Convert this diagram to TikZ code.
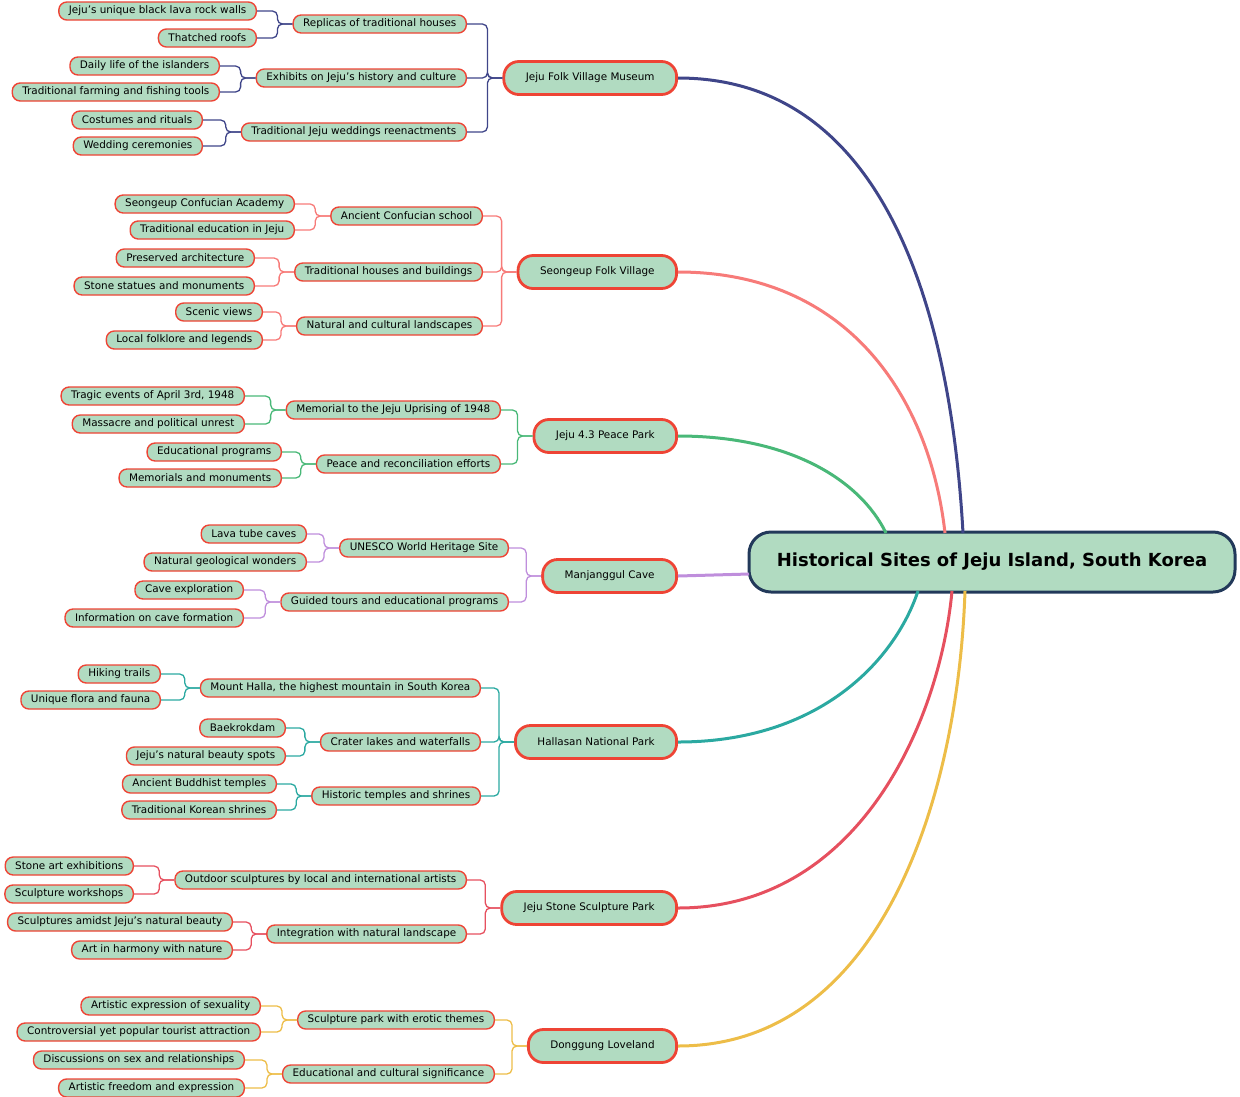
\documentclass[tikz,border=0pt]{standalone}
\usepackage{fontspec}
\setmainfont{DejaVu Sans}
\begin{document}
\begin{tikzpicture}[x=1pt,y=-1pt,
 leaf/.style={draw=nodered,fill=nodefill,line width=1.4pt,rounded corners=8pt,minimum height=18pt,inner xsep=10pt,inner ysep=1pt,font=\fontsize{10.4pt}{11pt}\selectfont,anchor=east},
 main/.style={leaf,line width=2.8pt,rounded corners=15pt,minimum height=33pt,inner xsep=22pt},
 conn/.style={line width=1.3pt,rounded corners=5pt},
 big/.style={line width=3pt}]
\definecolor{nodered}{HTML}{EE4435}
\definecolor{nodefill}{HTML}{B1DBC1}
\definecolor{cA}{HTML}{3F4589}
\definecolor{cB}{HTML}{F77B79}
\definecolor{cC}{HTML}{49B878}
\definecolor{cD}{HTML}{BF8EDC}
\definecolor{cE}{HTML}{2BA9A1}
\definecolor{cF}{HTML}{E6505F}
\definecolor{cG}{HTML}{EDBD48}
\definecolor{rootb}{HTML}{22395A}
\useasboundingbox (0,0) rectangle (1240,1096);
\newcommand\nd[5][leaf]{\node[#1] (#2) at (#3,#4) {#5};}
\newcommand\cn[3]{\draw[#3,conn] (#1.west) -- ++(-15,0) |- (#2.east);}
% main connectors
\coordinate (ra) at (963,533);
\coordinate (rb) at (945,533);
\coordinate (rc) at (886,533);
\coordinate (rd) at (749,574);
\coordinate (re) at (918,591);
\coordinate (rf) at (952,591);
\coordinate (rg) at (965,591);
\node[draw=rootb,fill=nodefill,line width=3pt,rounded corners=22pt,minimum width=486pt,minimum height=60pt,font=\fontsize{18pt}{20pt}\selectfont\bfseries] (root) at (992,562) {Historical Sites of Jeju Island, South Korea};
% branch A
\nd[main]{a}{678}{78}{Jeju Folk Village Museum}
\nd{a1}{467}{24}{Replicas of traditional houses}
\nd{a2}{467}{78}{Exhibits on Jeju's history and culture}
\nd{a3}{467}{132}{Traditional Jeju weddings reenactments}
\nd{a11}{257}{11}{Jeju's unique black lava rock walls}
\nd{a12}{257}{38}{Thatched roofs}
\nd{a21}{220}{66}{Daily life of the islanders}
\nd{a22}{220}{92}{Traditional farming and fishing tools}
\nd{a31}{203}{120}{Costumes and rituals}
\nd{a32}{203}{146}{Wedding ceremonies}
\foreach \c/\p in {a1/a,a2/a,a3/a,a11/a1,a12/a1,a21/a2,a22/a2,a31/a3,a32/a3}{\cn{\p}{\c}{cA}}
% branch B
\nd[main]{b}{678}{272}{Seongeup Folk Village}
\nd{b1}{483}{216}{Ancient Confucian school}
\nd{b2}{483}{272}{Traditional houses and buildings}
\nd{b3}{483}{326}{Natural and cultural landscapes}
\nd{b11}{295}{204}{Seongeup Confucian Academy}
\nd{b12}{295}{230}{Traditional education in Jeju}
\nd{b21}{255}{258}{Preserved architecture}
\nd{b22}{255}{286}{Stone statues and monuments}
\nd{b31}{263}{312}{Scenic views}
\nd{b32}{263}{340}{Local folklore and legends}
\foreach \c/\p in {b1/b,b2/b,b3/b,b11/b1,b12/b1,b21/b2,b22/b2,b31/b3,b32/b3}{\cn{\p}{\c}{cB}}
% branch C
\nd[main]{c}{678}{436}{Jeju 4.3 Peace Park}
\nd{c1}{501}{410}{Memorial to the Jeju Uprising of 1948}
\nd{c2}{501}{464}{Peace and reconciliation efforts}
\nd{c11}{245}{396}{Tragic events of April 3rd, 1948}
\nd{c12}{245}{424}{Massacre and political unrest}
\nd{c21}{282}{452}{Educational programs}
\nd{c22}{282}{478}{Memorials and monuments}
\foreach \c/\p in {c1/c,c2/c,c11/c1,c12/c1,c21/c2,c22/c2}{\cn{\p}{\c}{cC}}
% branch D
\nd[main]{d}{678}{576}{Manjanggul Cave}
\nd{d1}{509}{548}{UNESCO World Heritage Site}
\nd{d2}{509}{602}{Guided tours and educational programs}
\nd{d11}{307}{534}{Lava tube caves}
\nd{d12}{307}{562}{Natural geological wonders}
\nd{d21}{244}{590}{Cave exploration}
\nd{d22}{244}{618}{Information on cave formation}
\foreach \c/\p in {d1/d,d2/d,d11/d1,d12/d1,d21/d2,d22/d2}{\cn{\p}{\c}{cD}}
% branch E
\nd[main]{e}{678}{742}{Hallasan National Park}
\nd{e1}{481}{688}{Mount Halla, the highest mountain in South Korea}
\nd{e2}{481}{742}{Crater lakes and waterfalls}
\nd{e3}{481}{796}{Historic temples and shrines}
\nd{e11}{161}{674}{Hiking trails}
\nd{e12}{161}{700}{Unique flora and fauna}
\nd{e21}{286}{728}{Baekrokdam}
\nd{e22}{286}{756}{Jeju's natural beauty spots}
\nd{e31}{277}{784}{Ancient Buddhist temples}
\nd{e32}{277}{810}{Traditional Korean shrines}
\foreach \c/\p in {e1/e,e2/e,e3/e,e11/e1,e12/e1,e21/e2,e22/e2,e31/e3,e32/e3}{\cn{\p}{\c}{cE}}
% branch F
\nd[main]{f}{678}{908}{Jeju Stone Sculpture Park}
\nd{f1}{467}{880}{Outdoor sculptures by local and international artists}
\nd{f2}{467}{934}{Integration with natural landscape}
\nd{f11}{134}{866}{Stone art exhibitions}
\nd{f12}{134}{894}{Sculpture workshops}
\nd{f21}{233}{922}{Sculptures amidst Jeju's natural beauty}
\nd{f22}{233}{950}{Art in harmony with nature}
\foreach \c/\p in {f1/f,f2/f,f11/f1,f12/f1,f21/f2,f22/f2}{\cn{\p}{\c}{cF}}
% branch G
\nd[main]{g}{678}{1046}{Donggung Loveland}
\nd{g1}{495}{1020}{Sculpture park with erotic themes}
\nd{g2}{495}{1074}{Educational and cultural significance}
\nd{g11}{261}{1006}{Artistic expression of sexuality}
\nd{g12}{261}{1032}{Controversial yet popular tourist attraction}
\nd{g21}{245}{1060}{Discussions on sex and relationships}
\nd{g22}{245}{1088}{Artistic freedom and expression}
\foreach \c/\p in {g1/g,g2/g,g11/g1,g12/g1,g21/g2,g22/g2}{\cn{\p}{\c}{cG}}
\draw[cA,big] (a.east) .. controls (880,78) and (950,300) .. (ra);
\draw[cB,big] (b.east) .. controls (850,272) and (930,400) .. (rb);
\draw[cC,big] (c.east) .. controls (790,436) and (860,480) .. (rc);
\draw[cD,big] (d.east) -- (rd);
\draw[cE,big] (e.east) .. controls (820,742) and (895,660) .. (re);
\draw[cF,big] (f.east) .. controls (860,908) and (940,720) .. (rf);
\draw[cG,big] (g.east) .. controls (880,1046) and (958,800) .. (rg);
\end{tikzpicture}
\end{document}
